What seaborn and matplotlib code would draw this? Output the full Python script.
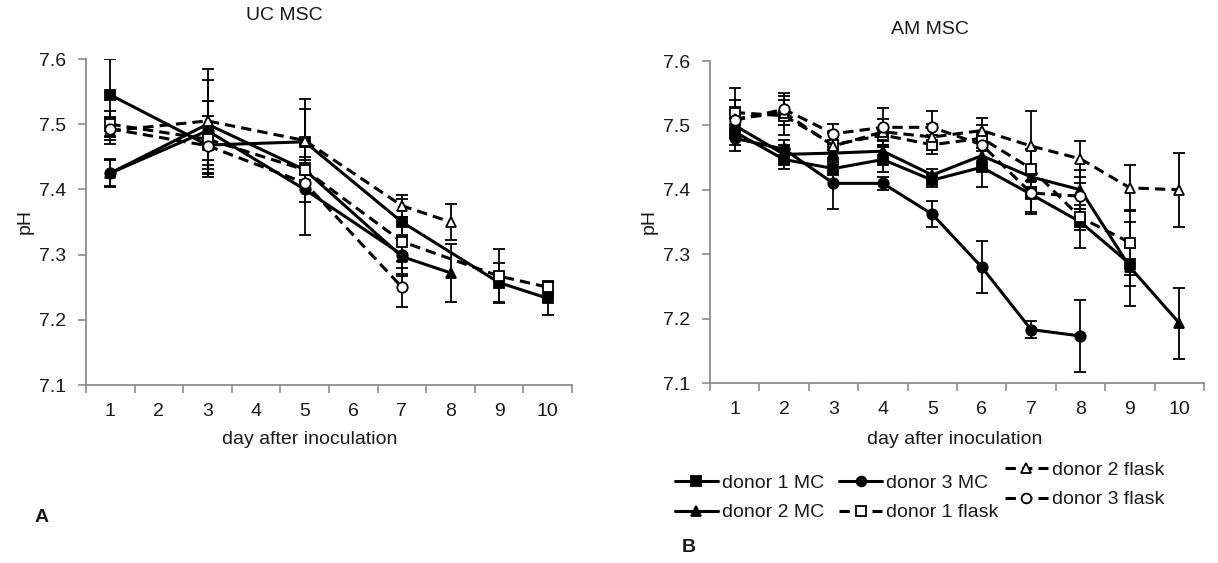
import numpy as np
import pandas as pd
import matplotlib
matplotlib.use("Agg")
import matplotlib.pyplot as plt
import seaborn as sns
from matplotlib.lines import Line2D

sns.set_theme(style="white")
plt.rcParams['font.family'] = ['Liberation Sans', 'DejaVu Sans']

# ---------------- data ----------------
series_names = ["donor 1 MC", "donor 2 MC", "donor 3 MC",
                "donor 1 flask", "donor 2 flask", "donor 3 flask"]

# UC MSC (panel A)
uc_d1mc_days = [1, 3, 5, 7, 9, 10]
uc_d1mc_ph = [7.545, 7.468, 7.473, 7.350, 7.257, 7.233]
uc_d1mc_err = [0.055, 0.045, 0.050, 0.035, 0.030, 0.025]

uc_d2mc_days = [1, 3, 5, 7, 8]
uc_d2mc_ph = [7.425, 7.500, 7.430, 7.297, 7.272]
uc_d2mc_err = [0.022, 0.068, 0.020, 0.030, 0.045]

uc_d3mc_days = [1, 3, 5, 7]
uc_d3mc_ph = [7.425, 7.490, 7.400, 7.300]
uc_d3mc_err = [0.020, 0.045, 0.070, 0.030]

uc_d1fl_days = [1, 3, 5, 7, 9, 10]
uc_d1fl_ph = [7.500, 7.477, 7.430, 7.320, 7.267, 7.250]
uc_d1fl_err = [0.020, 0.058, 0.015, 0.030, 0.042, 0.010]

uc_d2fl_days = [1, 3, 5, 7, 8]
uc_d2fl_ph = [7.490, 7.505, 7.475, 7.375, 7.350]
uc_d2fl_err = [0.020, 0.080, 0.063, 0.017, 0.027]

uc_d3fl_days = [1, 3, 5, 7]
uc_d3fl_ph = [7.493, 7.467, 7.410, 7.250]
uc_d3fl_err = [0.018, 0.030, 0.030, 0.030]

# AM MSC (panel B)
am_d1mc_days = [1, 2, 3, 4, 5, 6, 7, 8, 9]
am_d1mc_ph = [7.490, 7.447, 7.433, 7.447, 7.415, 7.435, 7.393, 7.350, 7.285]
am_d1mc_err = [0.020, 0.015, 0.010, 0.020, 0.010, 0.030, 0.030, 0.040, 0.065]

am_d2mc_days = [1, 2, 3, 4, 5, 6, 7, 8, 9, 10]
am_d2mc_ph = [7.500, 7.455, 7.457, 7.460, 7.423, 7.453, 7.420, 7.400, 7.280, 7.193]
am_d2mc_err = [0.020, 0.015, 0.010, 0.010, 0.010, 0.020, 0.015, 0.030, 0.030, 0.055]

am_d3mc_days = [1, 2, 3, 4, 5, 6, 7, 8]
am_d3mc_ph = [7.480, 7.463, 7.410, 7.410, 7.362, 7.280, 7.183, 7.173]
am_d3mc_err = [0.020, 0.015, 0.040, 0.010, 0.020, 0.040, 0.013, 0.056]

am_d1fl_days = [1, 2, 3, 4, 5, 6, 7, 8, 9]
am_d1fl_ph = [7.520, 7.515, 7.470, 7.485, 7.470, 7.480, 7.433, 7.357, 7.318]
am_d1fl_err = [0.038, 0.030, 0.020, 0.010, 0.015, 0.020, 0.030, 0.020, 0.050]

am_d2fl_days = [1, 2, 3, 4, 5, 6, 7, 8, 9, 10]
am_d2fl_ph = [7.510, 7.520, 7.468, 7.490, 7.482, 7.492, 7.468, 7.448, 7.403, 7.400]
am_d2fl_err = [0.030, 0.020, 0.020, 0.020, 0.020, 0.020, 0.055, 0.028, 0.036, 0.057]

am_d3fl_days = [1, 2, 3, 4, 5, 6, 7, 8]
am_d3fl_ph = [7.508, 7.525, 7.487, 7.497, 7.497, 7.470, 7.395, 7.390]
am_d3fl_err = [0.020, 0.025, 0.015, 0.030, 0.025, 0.020, 0.030, 0.020]

day_labels = [str(d) for d in range(1, 11)]
y_ticks = [7.1, 7.2, 7.3, 7.4, 7.5, 7.6]

uc_data = [(uc_d1mc_days, uc_d1mc_ph, uc_d1mc_err), (uc_d2mc_days, uc_d2mc_ph, uc_d2mc_err),
           (uc_d3mc_days, uc_d3mc_ph, uc_d3mc_err), (uc_d1fl_days, uc_d1fl_ph, uc_d1fl_err),
           (uc_d2fl_days, uc_d2fl_ph, uc_d2fl_err), (uc_d3fl_days, uc_d3fl_ph, uc_d3fl_err)]
am_data = [(am_d1mc_days, am_d1mc_ph, am_d1mc_err), (am_d2mc_days, am_d2mc_ph, am_d2mc_err),
           (am_d3mc_days, am_d3mc_ph, am_d3mc_err), (am_d1fl_days, am_d1fl_ph, am_d1fl_err),
           (am_d2fl_days, am_d2fl_ph, am_d2fl_err), (am_d3fl_days, am_d3fl_ph, am_d3fl_err)]

# ---------------- styles ----------------
DASH = (0, (3.4, 2.0))
styles = {
    "donor 1 MC":    dict(marker="s", mfc="black", ls="-"),
    "donor 2 MC":    dict(marker="^", mfc="black", ls="-"),
    "donor 3 MC":    dict(marker="o", mfc="black", ls="-"),
    "donor 1 flask": dict(marker="s", mfc="white", ls=DASH),
    "donor 2 flask": dict(marker="^", mfc="white", ls=DASH),
    "donor 3 flask": dict(marker="o", mfc="white", ls=DASH),
}
LW = 2.2
MS = 7.5
AXC = "#8c8c8c"
TXT = "#1a1a1a"
FS = 14

W, H = 1218, 563
fig = plt.figure(figsize=(W / 100, H / 100), dpi=100)
axA = fig.add_axes([86 / W, 1 - 385 / H, (572 - 86) / W, (385 - 59) / H])
axB = fig.add_axes([710 / W, 1 - 383 / H, (1204 - 710) / W, (383 - 61) / H])


def draw(ax, data):
    for name, (days, ph, err) in zip(series_names, data):
        st = styles[name]
        ax.errorbar(days, ph, yerr=err, fmt="none", ecolor="black",
                    elinewidth=1.3, capsize=4, capthick=1.3, zorder=2)
        df = pd.DataFrame({"day": days, "pH": ph})
        sns.lineplot(data=df, x="day", y="pH", ax=ax, color="black",
                     linewidth=LW, linestyle=st["ls"], marker=st["marker"],
                     markersize=MS, markerfacecolor=st["mfc"],
                     markeredgecolor="black", markeredgewidth=1.3,
                     zorder=3, legend=False)
    ax.set_xlim(0.5, 10.5)
    ax.set_ylim(7.1, 7.6)
    ax.set_yticks(y_ticks)
    ax.set_yticklabels([f"{v:.1f}" for v in y_ticks], fontsize=FS, color=TXT)
    ax.set_xticks(np.arange(0.5, 11, 1.0))
    ax.set_xticklabels([])
    ax.set_xticks(range(1, 11), minor=True)
    ax.set_xticklabels(day_labels, minor=True, fontsize=FS, color=TXT)
    ax.tick_params(axis="x", which="major", length=6, width=1.2, color=AXC, direction="out", bottom=True)
    ax.tick_params(axis="x", which="minor", length=0, pad=13)
    ax.tick_params(axis="y", length=6, width=1.2, color=AXC, direction="out", left=True, pad=8)
    for s in ["top", "right"]:
        ax.spines[s].set_visible(False)
    for s in ["left", "bottom"]:
        ax.spines[s].set_color(AXC)
        ax.spines[s].set_linewidth(1.3)
    ax.set_xlabel("")
    ax.set_ylabel("pH", fontsize=FS, color=TXT, labelpad=4)
    ax.grid(False)


draw(axA, uc_data)
draw(axB, am_data)

fig.text(284 / W, 1 - 16 / H, "UC MSC", ha="center", va="center", fontsize=FS, color=TXT)
fig.text(930 / W, 1 - 30 / H, "AM MSC", ha="center", va="center", fontsize=FS, color=TXT)
fig.text(310 / W, 1 - 440 / H, "day after inoculation", ha="center", va="center", fontsize=FS, color=TXT)
fig.text(955 / W, 1 - 440 / H, "day after inoculation", ha="center", va="center", fontsize=FS, color=TXT)
fig.text(42 / W, 1 - 517 / H, "A", ha="center", va="center", fontsize=FS, fontweight="bold", color=TXT)
fig.text(689 / W, 1 - 548 / H, "B", ha="center", va="center", fontsize=FS, fontweight="bold", color=TXT)

handles = {}
for name in series_names:
    st = styles[name]
    handles[name] = Line2D([], [], color="black", linewidth=LW, linestyle=st["ls"],
                           marker=st["marker"], markersize=MS - 0.5, markerfacecolor=st["mfc"],
                           markeredgecolor="black", markeredgewidth=1.3)

leg_kw = dict(frameon=False, fontsize=FS, handlelength=2.2, handletextpad=0.2,
              columnspacing=0.8, labelspacing=0.6, labelcolor=TXT,
              borderpad=0, borderaxespad=0)
names1 = series_names[:4]
leg1 = fig.legend([handles[n] for n in names1], names1, loc="center left",
                  bbox_to_anchor=(675 / W, 1 - 498 / H), ncol=2, **leg_kw)
names2 = series_names[4:]
leg2 = fig.legend([handles[n] for n in names2], names2, loc="center left",
                  bbox_to_anchor=(1005 / W, 1 - 485 / H), ncol=1, **leg_kw)

fig.savefig("out.png", dpi=100)
